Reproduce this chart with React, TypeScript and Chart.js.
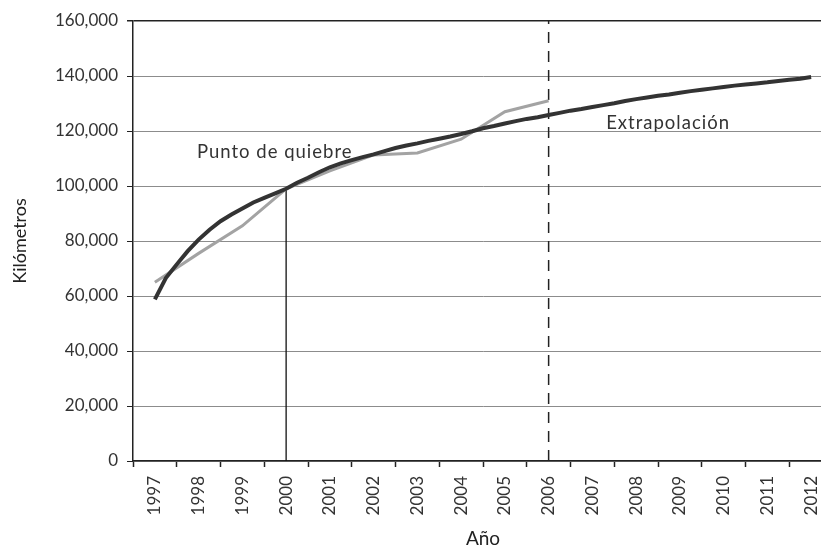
import React, { useEffect, useRef } from "react";
import { Chart, registerables } from "chart.js";

Chart.register(...registerables);

const yearLabels = ["1997","1998","1999","2000","2001","2002","2003","2004","2005","2006","2007","2008","2009","2010","2011","2012"];

// observed series (gray)
const observedYears = [1997, 1998, 1999, 2000, 2001, 2002, 2003, 2004, 2005, 2006];
const observedKm = [65000, 75500, 85500, 99000, 105500, 111300, 112000, 117000, 127000, 131000];

// fitted / extrapolated series (dark), quarterly readings
const fittedYears = [
  1997, 1997.25, 1997.5, 1997.75, 1998, 1998.25, 1998.5, 1998.75,
  1999, 1999.25, 1999.5, 1999.75, 2000, 2000.25, 2000.5, 2000.75,
  2001, 2001.25, 2001.5, 2001.75, 2002, 2002.25, 2002.5, 2002.75,
  2003, 2003.25, 2003.5, 2003.75, 2004, 2004.25, 2004.5, 2004.75,
  2005, 2005.25, 2005.5, 2005.75, 2006, 2006.25, 2006.5, 2006.75,
  2007, 2007.25, 2007.5, 2007.75, 2008, 2008.25, 2008.5, 2008.75,
  2009, 2009.25, 2009.5, 2009.75, 2010, 2010.25, 2010.5, 2010.75,
  2011, 2011.25, 2011.5, 2011.75, 2012
];
const fittedKm = [
  58800, 66500, 71500, 76300, 80500, 84100, 87200, 89600,
  91800, 94000, 95700, 97300, 99000, 101200, 103000, 105000,
  106800, 108200, 109400, 110500, 111500, 112700, 113800, 114700,
  115500, 116400, 117200, 118000, 118900, 119900, 121000, 121800,
  122700, 123600, 124400, 125000, 125800, 126600, 127400, 128000,
  128700, 129400, 130100, 130900, 131600, 132200, 132800, 133300,
  133900, 134500, 135000, 135500, 136000, 136500, 136900, 137300,
  137700, 138200, 138600, 139000, 139600
];

const breakYear = 2000;
const breakKm = 99000;
const extrapYear = 2006;
const extrapTopKm = 160000;

const yTicks = [0, 20000, 40000, 60000, 80000, 100000, 120000, 140000, 160000];

const noteTexts = ["Punto de quiebre", "Extrapolación"];
const noteYears = [1999.74, 2008.73];
const noteKm = [112400, 122900];

const FONT = "Lato, 'Open Sans', sans-serif";

const notesPlugin = {
  id: "notes",
  afterDatasetsDraw(chart: any) {
    const { ctx, scales } = chart;
    ctx.save();
    ctx.font = `18.5px ${FONT}`;
    ctx.fillStyle = "#333";
    ctx.textAlign = "center";
    ctx.textBaseline = "middle";
    try { (ctx as any).letterSpacing = "1px"; } catch (e) {}
    noteTexts.forEach((t, i) => {
      ctx.fillText(t, scales.x2.getPixelForValue(noteYears[i]), scales.y.getPixelForValue(noteKm[i]));
    });
    ctx.restore();
  },
};

export default function App() {
  const ref = useRef<HTMLCanvasElement | null>(null);

  useEffect(() => {
    if (!ref.current) return;
    const chart = new Chart(ref.current, {
      type: "line",
      data: {
        labels: yearLabels,
        datasets: [
          {
            label: "Ajuste",
            xAxisID: "x2",
            data: fittedYears.map((x, i) => ({ x, y: fittedKm[i] })),
            borderColor: "#333333",
            borderWidth: 4,
            pointRadius: 0,
            tension: 0,
            fill: false,
          },
          {
            label: "Observado",
            xAxisID: "x2",
            data: observedYears.map((x, i) => ({ x, y: observedKm[i] })),
            borderColor: "#a3a3a3",
            borderWidth: 3,
            pointRadius: 0,
            tension: 0,
            fill: false,
          },
          {
            label: "Quiebre",
            xAxisID: "x2",
            data: [{ x: breakYear, y: 0 }, { x: breakYear, y: breakKm }],
            borderColor: "#111",
            borderWidth: 1.3,
            pointRadius: 0,
            fill: false,
          },
          {
            label: "Extrapolación",
            xAxisID: "x2",
            data: [{ x: extrapYear, y: 0 }, { x: extrapYear, y: extrapTopKm }],
            borderColor: "#222",
            borderWidth: 1.5,
            borderDash: [11, 8],
            pointRadius: 0,
            fill: false,
          },
        ],
      },
      options: {
        animation: false,
        responsive: false,
        devicePixelRatio: 1,
        layout: { padding: { left: 4, top: 21, right: 12, bottom: 0 } },
        plugins: { legend: { display: false }, tooltip: { enabled: false } },
        scales: {
          x: {
            type: "category",
            offset: true,
            grid: {
              display: true,
              offset: true,
              drawOnChartArea: false,
              drawTicks: true,
              tickLength: 6,
              tickColor: "#222",
              tickWidth: 1.5,
            },
            border: { display: true, color: "#222", width: 1.5 },
            ticks: {
              autoSkip: false,
              maxRotation: 90,
              minRotation: 90,
              padding: 9,
              color: "#333",
              font: { family: FONT, size: 17 },
            },
            title: {
              display: true,
              text: "Año",
              color: "#222",
              font: { family: FONT, size: 19 },
              padding: { top: 0, bottom: 0 },
            },
            afterFit: (scale: any) => { scale.height = 89; },
          },
          x2: {
            type: "linear",
            display: false,
            min: 1996.5,
            max: 2012.5,
          },
          y: {
            type: "linear",
            min: 0,
            max: 160000,
            afterBuildTicks: (scale: any) => { scale.ticks = yTicks.map((v) => ({ value: v })); },
            grid: {
              color: (c: any) => (c.tick && c.tick.value === 160000 ? "#222" : "#8c8c8c"),
              lineWidth: (c: any) => (c.tick && c.tick.value === 160000 ? 1.5 : 1),
              drawTicks: true,
              tickLength: 6,
              tickColor: "#222",
            },
            border: { display: true, color: "#222", width: 1.5 },
            ticks: {
              padding: 9,
              color: "#333",
              font: { family: FONT, size: 17 },
              callback: (v: any) => Number(v).toLocaleString("en-US"),
            },
            title: {
              display: true,
              text: "Kilómetros",
              color: "#222",
              font: { family: FONT, size: 18 },
              padding: { top: 5, bottom: 0 },
            },
            afterFit: (scale: any) => { scale.width = 129; },
          },
        },
      },
      plugins: [notesPlugin],
    });
    return () => chart.destroy();
  }, []);

  return (
    <div style={{ position: "fixed", left: 0, top: 0, width: 821, height: 550, overflow: "hidden", background: "#fff" }}>
      <canvas ref={ref} width={845} height={550} style={{ width: 845, height: 550, display: "block" }} />
    </div>
  );
}
